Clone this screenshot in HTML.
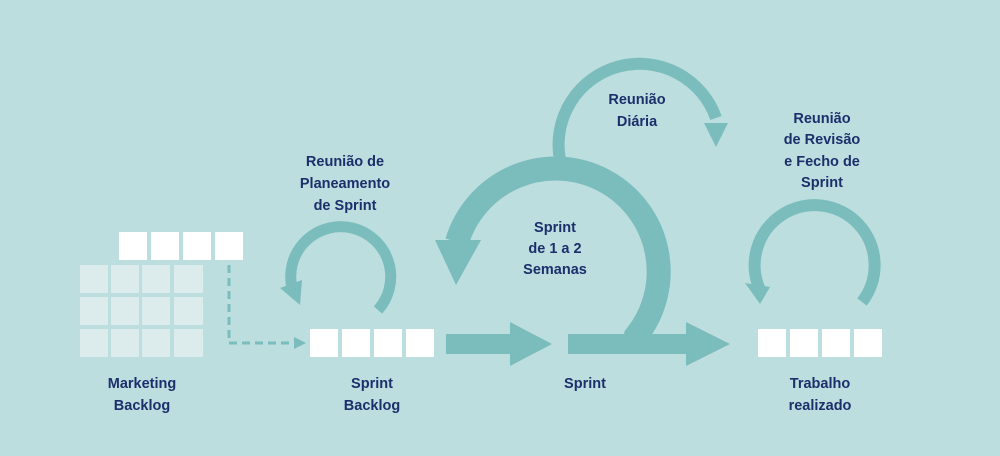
<!DOCTYPE html>
<html><head><meta charset="utf-8"><style>
html,body{margin:0;padding:0;background:#bcdedf;}
svg{display:block}
text{font-family:"Liberation Sans",sans-serif;font-weight:bold;font-size:14.5px;fill:#1b2f6b;text-anchor:middle}
</style></head><body>
<svg width="1000" height="456" viewBox="0 0 1000 456">
<rect width="1000" height="456" fill="#bcdedf"/>
<g fill="#dcecec">
<rect x="80" y="265" width="28" height="28"/><rect x="111" y="265" width="28" height="28"/><rect x="142" y="265" width="28" height="28"/><rect x="174" y="265" width="29" height="28"/>
<rect x="80" y="297" width="28" height="28"/><rect x="111" y="297" width="28" height="28"/><rect x="142" y="297" width="28" height="28"/><rect x="174" y="297" width="29" height="28"/>
<rect x="80" y="329" width="28" height="28"/><rect x="111" y="329" width="28" height="28"/><rect x="142" y="329" width="28" height="28"/><rect x="174" y="329" width="29" height="28"/>
</g>
<g fill="#ffffff">
<rect x="119" y="232" width="28" height="28"/><rect x="151" y="232" width="28" height="28"/><rect x="183" y="232" width="28" height="28"/><rect x="215" y="232" width="28" height="28"/>
<rect x="310" y="329" width="28" height="28"/><rect x="342" y="329" width="28" height="28"/><rect x="374" y="329" width="28" height="28"/><rect x="406" y="329" width="28" height="28"/>
<rect x="758" y="329" width="28" height="28"/><rect x="790" y="329" width="28" height="28"/><rect x="822" y="329" width="28" height="28"/><rect x="854" y="329" width="28" height="28"/>
</g>
<path d="M229 265 V343 H296" fill="none" stroke="#7bbcbc" stroke-width="3" stroke-dasharray="8,5"/>
<polygon points="294,337 306,343 294,349" fill="#7bbcbc"/>
<g fill="none" stroke="#7bbcbc">
<path d="M635 345 L636 336 A103 103 0 1 0 457 242" stroke-width="24"/>
<path d="M560 160 A81 81 0 0 1 716 118" stroke-width="12"/>
<path d="M378 310 A50 50 0 1 0 292 288" stroke-width="11"/>
<path d="M862 302 A60 60 0 1 0 760 290" stroke-width="12"/>
</g>
<g fill="#7bbcbc">
<rect x="446" y="334" width="66" height="20"/>
<polygon points="510,322 552,344 510,366"/>
<rect x="568" y="334" width="122" height="20"/>
<polygon points="686,322 730,344 686,366"/>
<polygon points="435,240 481,240 456,285"/>
<polygon points="704,123 728,123 716,147"/>
<polygon points="280,288 302,280 300,305"/>
<polygon points="745,283 770,287 760,304"/>
</g>
<text x="345" y="166">Reunião de</text>
<text x="345" y="188">Planeamento</text>
<text x="345" y="210">de Sprint</text>
<text x="637" y="104">Reunião</text>
<text x="637" y="126">Diária</text>
<text x="822" y="123">Reunião</text>
<text x="822" y="144">de Revisão</text>
<text x="822" y="166">e Fecho de</text>
<text x="822" y="187">Sprint</text>
<text x="555" y="232">Sprint</text>
<text x="555" y="253">de 1 a 2</text>
<text x="555" y="274">Semanas</text>
<text x="142" y="388">Marketing</text>
<text x="142" y="410">Backlog</text>
<text x="372" y="388">Sprint</text>
<text x="372" y="410">Backlog</text>
<text x="585" y="388">Sprint</text>
<text x="820" y="388">Trabalho</text>
<text x="820" y="410">realizado</text>
</svg>
</body></html>
